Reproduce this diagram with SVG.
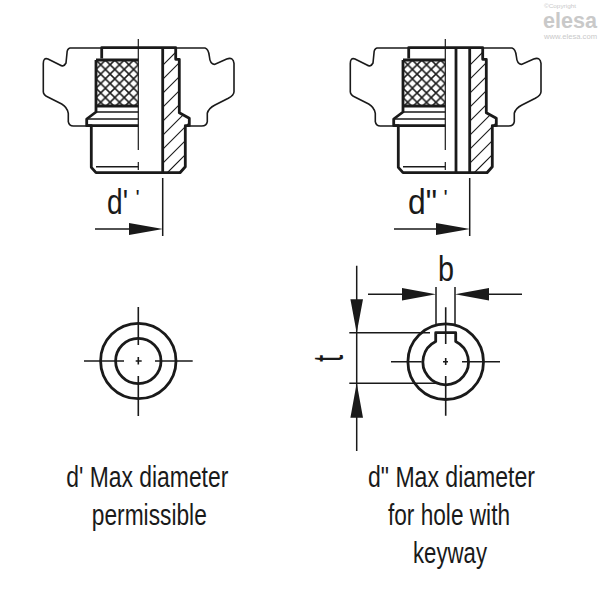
<svg xmlns="http://www.w3.org/2000/svg" width="600" height="600" viewBox="0 0 600 600">
<style>
.thin{fill:none;stroke:#1a1a1a;stroke-width:1.6}
.mid{fill:none;stroke:#1a1a1a;stroke-width:1.2}
.thick{fill:none;stroke:#1a1a1a;stroke-width:2.8;stroke-linejoin:round}
.hair{fill:none;stroke:#1a1a1a;stroke-width:1.5}
.head{fill:#1a1a1a}
text{font-family:"Liberation Sans",Arial,sans-serif;fill:#1a1a1a}
.cap{font-size:30px;text-anchor:middle}
.dim{font-size:35px}
.tick{font-size:22px}
.logo{fill:#c9c9c9}
</style>
<defs>
<pattern id="knurl" width="9.4" height="9.4" patternUnits="userSpaceOnUse" patternTransform="translate(96 60)">
<path d="M0,0 L9.4,9.4 M0,9.4 L9.4,0" stroke="#1a1a1a" stroke-width="1.5" fill="none"/>
</pattern>
<clipPath id="hatchclip"><path d="M162.700,48 H175.700 V59.300 H179.300 V112.700 L189.300,118.300 V125 H185.300 V166.700 L180,172.700 H162.700 Z"/></clipPath>
<g id="body">
<rect x="96.700" y="60" width="41.700" height="46" fill="url(#knurl)"/>
<path class="thin" d="M101.700,48 H70 Q67,49 67,53 L66,63 Q63.500,67.500 60,65 L48,59 Q43.300,57.300 43.300,63.500 V91.700 Q43.300,95 48.300,97.300 L61.700,104 Q67.300,107.300 68.300,113.300 V121.700 Q69,126 73.300,126 H87"/>
<path class="thin" d="M176,48 H205 Q208.500,49 209.300,56 Q210,65 215,64.300 L226.700,59 Q233.300,56.700 234,63.300 V91.700 Q234,95 228.300,98.300 L215,105 Q208.500,108.300 207.300,113.300 V121.700 Q206.700,126 201.700,126 H190"/>
<path class="thick" d="M101.700,58.500 V47.700 H175.700 V59.300 H179.300 V112.700 L189.300,118.300 V125.700 H185.300 V166.700 L180,172.700 H96 L91.300,167.300 V125.700 H86.700 V119 L96,112 V60"/>
<path class="thick" d="M96,60 H138.300 M96,106 H138.300 M87,125.700 H138.300 M162.700,48 V172.700"/>
<path class="thin" d="M96,112 H138.300 M88,119 H138.300 M96,166.700 H138.300"/>
<path class="mid" d="M138.300,39 V150 M138.300,162 V170"/>
<g clip-path="url(#hatchclip)" class="mid">
<path d="M160,68 L184,44 M160,82 L192,50 M160,96 L192,64 M160,110 L192,78 M160,124 L192,92 M160,138 L192,106 M160,152 L192,120 M160,166 L192,134 M160,180 L192,148 M172,180 L192,160"/>
</g>
</g>
</defs>

<g id="left-section">
<use href="#body"/>
<path class="hair" d="M162.700,178 V236 M95,229 H130"/>
<path class="head" d="M129,223 L163,229 L129,235 Z"/>
<text class="dim" x="107" y="214" textLength="21" lengthAdjust="spacingAndGlyphs">d'</text>
<text class="tick" x="135.500" y="205">'</text>
</g>

<g id="right-section">
<use href="#body" x="307"/>
<path class="thick" d="M456,48 V172.700"/>
<path class="hair" d="M469.700,178 V236 M394,229 H437"/>
<path class="head" d="M436,223 L470,229 L436,235 Z"/>
<text class="dim" x="408" y="214" textLength="29" lengthAdjust="spacingAndGlyphs">d"</text>
<text class="tick" x="443.500" y="205">'</text>
</g>

<g id="left-hole">
<circle class="thick" cx="138.300" cy="361" r="37.700"/>
<circle class="thick" cx="138.300" cy="361" r="22.700"/>
<path class="thin" d="M84,361 H124 M135.700,361 H141.700 M155,361 H192.700 M138.300,307 V345 M138.300,357 V364.500 M138.300,376 V416"/>
</g>

<g id="right-hole">
<circle class="thick" cx="445.700" cy="361.700" r="37.800"/>
<path class="thick" d="M435.700,341.500 V332.700 H455.700 V341.500 A22.800,22.800 0 1 1 435.700,341.500 Z"/>
<path class="thin" d="M391,361.700 H421.700 M443,361.700 H448 M462,361.700 H500 M445.700,307.300 V344 M445.700,358 V365 M445.700,376 V415.700"/>
</g>

<g id="connectors">
<path class="hair" d="M436,287 V325 M455,287 V325 M368,294.300 H403 M488,294.300 H522"/>
<path class="head" d="M402,288 L436,294.300 L402,300.600 Z M489,288 L455,294.300 L489,300.600 Z"/>
<path class="hair" d="M356.700,265.700 V451 M349.300,332.700 H430 M349.300,383.300 H438"/>
<path class="head" d="M350.400,299.300 L356.700,333 L363,299.300 Z M350.400,417.700 L356.700,383 L363,417.700 Z"/>
</g>

<g id="labels">
<text class="dim" x="438" y="281" textLength="16" lengthAdjust="spacingAndGlyphs">b</text>
<text transform="translate(343,362) rotate(-90) scale(.62,1)" font-size="42">t</text>
<text class="cap" x="147.300" y="487" textLength="162" lengthAdjust="spacingAndGlyphs">d' Max diameter</text>
<text class="cap" x="149.300" y="525" textLength="115" lengthAdjust="spacingAndGlyphs">permissible</text>
<text class="cap" x="451.500" y="487" textLength="167" lengthAdjust="spacingAndGlyphs">d" Max diameter</text>
<text class="cap" x="449" y="525" textLength="122" lengthAdjust="spacingAndGlyphs">for hole with</text>
<text class="cap" x="450" y="563" textLength="74" lengthAdjust="spacingAndGlyphs">keyway</text>
</g>

<g id="logo">
<text class="logo" x="544" y="7.500" font-size="6" textLength="32" lengthAdjust="spacingAndGlyphs">©Copyright</text>
<text class="logo" x="543" y="28" font-size="22" font-weight="bold" textLength="54" lengthAdjust="spacingAndGlyphs">elesa</text>
<text class="logo" x="544" y="39" font-size="6.500" textLength="53" lengthAdjust="spacingAndGlyphs">www.elesa.com</text>
</g>
</svg>
